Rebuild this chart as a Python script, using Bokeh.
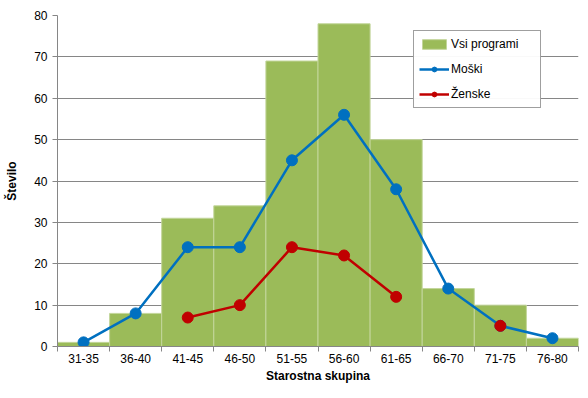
from bokeh.plotting import figure
from bokeh.models import ColumnDataSource, FixedTicker, Range1d, Legend, LegendItem
from bokeh.embed import file_html
from bokeh.resources import INLINE
import numpy as np

categories = ["31-35", "36-40", "41-45", "46-50", "51-55", "56-60", "61-65", "66-70", "71-75", "76-80"]
vsi_programi = [1, 8, 31, 34, 69, 78, 50, 14, 10, 2]
moski = [1, 8, 24, 24, 45, 56, 38, 14, 5, 2]
zenske = [np.nan, np.nan, 7, 10, 24, 22, 12, np.nan, 5, np.nan]
y_ticks = [0, 10, 20, 30, 40, 50, 60, 70, 80]

x = [i + 0.5 for i in range(len(categories))]
src = ColumnDataSource(dict(x=x, vsi=vsi_programi, m=moski, z=zenske))

FONT = "Liberation Sans"
p = figure(width=580, height=390, output_backend="svg", toolbar_location=None,
           x_range=Range1d(0, len(categories)), y_range=Range1d(0, 80),
           min_border_left=57, min_border_right=2, min_border_top=15, min_border_bottom=44)
p.outline_line_color = None
p.background_fill_color = "white"

bars = p.vbar(x="x", top="vsi", width=1.0, source=src, fill_color="#9BBB59",
              line_color="#C3D69B", line_width=1)
lm = p.line("x", "m", source=src, line_color="#0070C0", line_width=2.5)
sm = p.scatter("x", "m", source=src, size=11, fill_color="#0070C0", line_color="#0070C0")
lz = p.line("x", "z", source=src, line_color="#C00000", line_width=2.5)
sz = p.scatter("x", "z", source=src, size=11, fill_color="#C00000", line_color="#C00000")

# axes
p.xaxis.ticker = FixedTicker(ticks=x, minor_ticks=list(range(len(categories) + 1)))
p.xaxis.major_label_overrides = {xi: c for xi, c in zip(x, categories)}
p.xaxis.major_tick_line_color = None
p.xaxis.minor_tick_line_color = "#868686"
p.xaxis.minor_tick_out = 5
p.xaxis.minor_tick_in = 0
p.xaxis.axis_line_color = "#868686"
p.xaxis.axis_label = "Starostna skupina"

p.yaxis.ticker = FixedTicker(ticks=y_ticks)
p.yaxis.major_tick_line_color = "#868686"
p.yaxis.major_tick_out = 5
p.yaxis.major_tick_in = 0
p.yaxis.minor_tick_line_color = None
p.yaxis.axis_line_color = "#868686"
p.yaxis.axis_label = "Število"

for ax in (p.xaxis[0], p.yaxis[0]):
    ax.major_label_text_font = FONT
    ax.major_label_text_font_size = "12px"
    ax.major_label_text_color = "#000000"
    ax.axis_label_text_font = FONT
    ax.axis_label_text_font_style = "bold"
    ax.axis_label_text_font_size = "12px"
    ax.axis_label_text_color = "#000000"
p.xaxis.major_label_standoff = 1
p.xaxis.axis_label_standoff = 3
p.yaxis.axis_label_standoff = 12

p.xgrid.grid_line_color = None
p.ygrid.grid_line_color = "#868686"
p.ygrid.ticker = FixedTicker(ticks=y_ticks)

legend = Legend(items=[
    LegendItem(label="Vsi programi", renderers=[bars]),
    LegendItem(label="Moški", renderers=[lm, sm]),
    LegendItem(label="Ženske", renderers=[lz, sz]),
], location=(356, 238))
legend.label_text_font = FONT
legend.label_text_font_size = "12px"
legend.label_text_color = "#000000"
legend.border_line_color = "#404040"
legend.border_line_width = 1
legend.background_fill_color = "white"
legend.padding = 5
legend.spacing = 9
legend.margin = 0
legend.glyph_width = 30
legend.glyph_height = 12
legend.label_standoff = 2
legend.label_height = 16
legend.label_width = 84
p.add_layout(legend, "center")

open("out.html", "w").write(file_html(p, INLINE))
